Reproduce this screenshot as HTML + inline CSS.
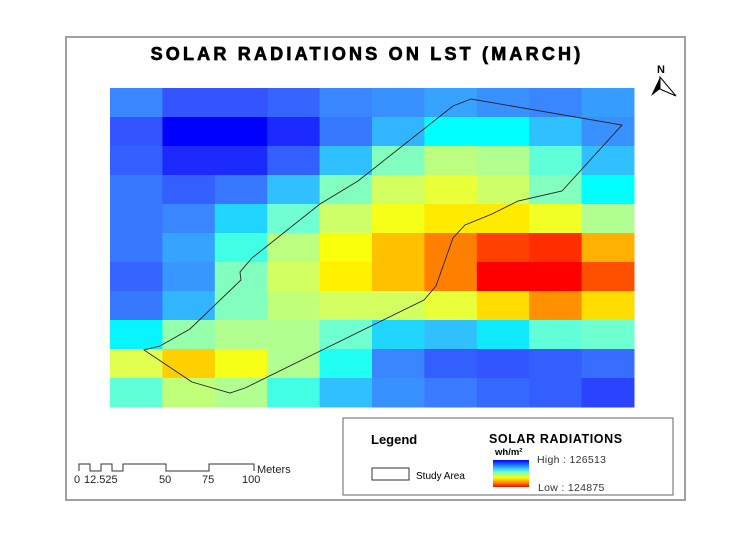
<!DOCTYPE html>
<html><head><meta charset="utf-8"><style>
html,body{margin:0;padding:0;background:#fff;}
svg{display:block;font-family:"Liberation Sans",Arial,sans-serif;}
</style></head><body>
<svg id="map" width="753" height="537" viewBox="0 0 753 537">
<rect x="66" y="37" width="619" height="463" fill="#fff" stroke="#a0a0a0" stroke-width="2"/>
<text x="367" y="60" text-anchor="middle" font-size="18" font-weight="bold" letter-spacing="3.2" stroke="#000" stroke-width="0.7">SOLAR RADIATIONS ON LST (MARCH)</text>
<g id="grid"></g>
<polygon id="study" fill="none" stroke="#222" stroke-width="0.9"/>
<g>
<text x="661" y="73" text-anchor="middle" font-size="11" font-weight="bold">N</text>
<polygon points="660,77 651,96 660,89" fill="#000"/>
<polygon points="660,77 676,96 660,89" fill="#fff" stroke="#000" stroke-width="1"/>
</g>
<g font-size="11" fill="#222">
<polyline points="79,471 79,464 90,464 90,471 101,471 101,464 112,464 112,471 123,471 123,464 166,464 166,471 209,471 209,464 254,464 254,471" fill="none" stroke="#333" stroke-width="1"/>
<text x="74" y="483">0</text><text x="84" y="483">12.525</text>
<text x="159" y="483">50</text><text x="202" y="483">75</text><text x="242" y="483">100</text>
<text x="257" y="473">Meters</text>
</g>
<g>
<rect x="343" y="418" width="330" height="77" fill="#fff" stroke="#666" stroke-width="1"/>
<text x="371" y="444" font-size="13" font-weight="bold">Legend</text>
<rect x="372" y="468" width="37" height="12" fill="#fff" stroke="#333"/>
<text x="416" y="479" font-size="10">Study Area</text>
<text x="489" y="443" font-size="12.5" font-weight="bold" letter-spacing="0.6">SOLAR RADIATIONS</text>
<text x="495" y="455" font-size="9.5" font-weight="bold">wh/m²</text>
<defs><linearGradient id="lg" x1="0" y1="0" x2="0" y2="1">
<stop offset="0" stop-color="#0000ff"/><stop offset="0.3" stop-color="#30c0ff"/><stop offset="0.45" stop-color="#70ffd0"/><stop offset="0.65" stop-color="#ffff00"/><stop offset="0.85" stop-color="#ff8000"/><stop offset="1" stop-color="#ff0000"/></linearGradient></defs>
<rect x="493" y="460" width="36" height="27" fill="url(#lg)"/>
<text x="537" y="463" font-size="10.5" fill="#333" letter-spacing="0.3">High : 126513</text>
<text x="538" y="491" font-size="10.5" fill="#333" letter-spacing="0.3">Low : 124875</text>
</g>
</svg>
<script>
const highVal = 126513;
const lowVal = 124875;
const row0 = [126185,126349,126349,126300,126185,126153,126104,126153,126185,126120];
const row1 = [126349,126513,126513,126431,126235,126054,125923,125923,126022,126153];
const row2 = [126316,126431,126431,126316,126022,125776,125661,125694,125825,126022];
const row3 = [126235,126316,126235,126022,125776,125596,125530,125612,125776,125923];
const row4 = [126235,126185,125989,125809,125612,125481,125399,125399,125497,125694];
const row5 = [126235,126104,125858,125661,125465,125301,125170,125039,124990,125268];
const row6 = [126300,126136,125776,125596,125416,125301,125170,124875,124875,125072];
const row7 = [126235,126054,125776,125645,125596,125596,125530,125366,125203,125366];
const row8 = [125940,125743,125694,125694,125809,125989,126022,125956,125825,125809];
const row9 = [125563,125334,125481,125694,125891,126185,126316,126349,126316,126267];
const row10 = [125825,125645,125694,125858,126022,126153,126218,126284,126316,126382];
const gridRows = [row0,row1,row2,row3,row4,row5,row6,row7,row8,row9,row10];
const outlineX = [471,453,358,320,252,240,241,190,160,144,192,230,245,424,436,453,465,492,518,562,622];
const outlineY = [99,106,181,204,258,272,280,329,346,350,382,393,388,300,286,238,225,214,201,191,125];

const X0=110, X1=634, Y0=88, Y1=407;
const stops=[[0,[0,0,255]],[0.06,[34,50,255]],[0.1,[51,85,255]],[0.2,[58,134,255]],[0.3,[48,192,255]],[0.36,[0,255,255]],[0.43,[112,255,208]],[0.5,[176,255,144]],[0.58,[224,255,80]],[0.65,[255,255,0]],[0.73,[255,200,0]],[0.82,[255,128,0]],[0.9,[255,64,0]],[1,[255,0,0]]];
function color(v){
  let t=(highVal-v)/(highVal-lowVal); t=Math.max(0,Math.min(1,t));
  for(let i=1;i<stops.length;i++){ if(t<=stops[i][0]){const a=stops[i-1],b=stops[i];const f=(t-a[0])/(b[0]-a[0]);
    const c=a[1].map((x,k)=>Math.round(x+(b[1][k]-x)*f));return 'rgb('+c.join(',')+')';}}
  return 'rgb(255,0,0)';
}
const ns='http://www.w3.org/2000/svg';
const g=document.getElementById('grid');
const nr=gridRows.length, nc=gridRows[0].length;
const cw=(X1-X0)/nc, ch=(Y1-Y0)/nr;
gridRows.forEach((row,r)=>row.forEach((v,c)=>{
  const el=document.createElementNS(ns,'rect');
  el.setAttribute('x',X0+c*cw);el.setAttribute('y',Y0+r*ch);
  el.setAttribute('width',cw+0.5);el.setAttribute('height',ch+0.5);
  el.setAttribute('fill',color(v));
  
  
  g.appendChild(el);
}));
document.getElementById('study').setAttribute('points',outlineX.map((x,i)=>x+','+outlineY[i]).join(' '));
</script>
</body></html>
